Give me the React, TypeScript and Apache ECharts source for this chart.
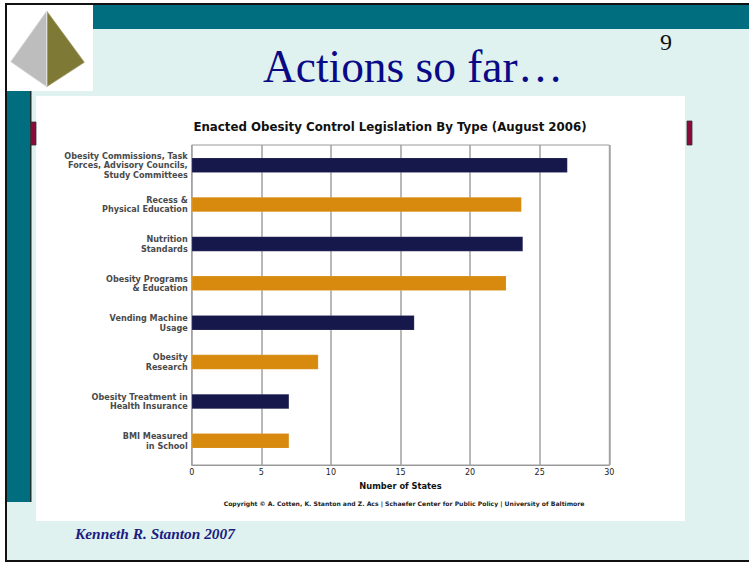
import React, { useEffect, useRef } from "react";
import * as echarts from "echarts";

const categories = [
  "Obesity Commissions, Task\nForces, Advisory Councils,\nStudy Committees",
  "Recess &\nPhysical Education",
  "Nutrition\nStandards",
  "Obesity Programs\n& Education",
  "Vending Machine\nUsage",
  "Obesity\nResearch",
  "Obesity Treatment in\nHealth Insurance",
  "BMI Measured\nin School",
];
const values = [27, 23.7, 23.8, 22.6, 16, 9.1, 7, 7];
const xTicks = { min: 0, max: 30, interval: 5 };

const NAVY = "#16174A";
const ORANGE = "#D78A0E";
const barColors = [NAVY, ORANGE, NAVY, ORANGE, NAVY, ORANGE, NAVY, ORANGE];

const TEAL = "#016E7F";
const SANS = "DejaVu Sans";
const SERIF = "Liberation Serif";

export default function App() {
  const ref = useRef<HTMLDivElement>(null);
  useEffect(() => {
    if (!ref.current) return;
    const chart = echarts.init(ref.current, undefined, { renderer: "svg" });
    const gLeft = 191.7;
    const gWidth = 417.6;
    const bg = (x: number, y: number, w: number, h: number, fill: string, z = -50, extra: any = {}) => ({
      type: "rect",
      z,
      silent: true,
      shape: { x, y, width: w, height: h },
      style: { fill, ...extra },
    });
    const txt = (text: string, x: number, y: number, s: any, z = 50) => ({
      type: "text",
      z,
      silent: true,
      x,
      y,
      style: {
        text,
        verticalAlign: "middle",
        textVerticalAlign: "middle",
        ...s,
      },
    });
    chart.setOption({
      animation: false,
      backgroundColor: "#ffffff",
      grid: [
        {
          left: gLeft,
          top: 145,
          width: gWidth,
          height: 320,
          show: true,
          borderColor: "#9a9a9a",
          borderWidth: 1,
          backgroundColor: "transparent",
        },
        { left: gLeft, top: 145.5, width: gWidth, height: 315 },
      ],
      xAxis: [
        {
          gridIndex: 0,
          type: "value",
          min: xTicks.min,
          max: xTicks.max,
          interval: xTicks.interval,
          axisLine: { show: true, lineStyle: { color: "#9a9a9a", width: 1 } },
          axisTick: { show: false },
          splitLine: { show: true, lineStyle: { color: "#a0a0a0", width: 1.5 } },
          axisLabel: { fontFamily: SANS, fontSize: 8, color: "#222", margin: 3 },
          name: "Number of States",
          nameLocation: "middle",
          nameGap: 17,
          nameTextStyle: { fontFamily: SANS, fontSize: 8.3, fontWeight: "bold", color: "#111" },
        },
        {
          gridIndex: 1,
          type: "value",
          min: xTicks.min,
          max: xTicks.max,
          show: false,
          splitLine: { show: false },
        },
      ],
      yAxis: [
        { gridIndex: 0, type: "value", show: false, splitLine: { show: false } },
        {
          gridIndex: 1,
          type: "category",
          inverse: true,
          data: categories,
          axisLine: { show: false },
          axisTick: { show: false },
          splitLine: { show: false },
          axisLabel: {
            fontFamily: SANS,
            fontSize: 8.1,
            fontWeight: "bold",
            lineHeight: 9.6,
            color: "#4a4a4a",
            margin: 4,
            align: "right",
          },
        },
      ],
      series: [
        {
          type: "bar",
          xAxisIndex: 1,
          yAxisIndex: 1,
          barWidth: 15,
          data: values.map((v, i) => ({ value: v, itemStyle: { color: barColors[i] } })),
          itemStyle: { borderColor: "rgba(255,255,255,0.25)", borderWidth: 0.5 },
        },
      ],
      graphic: [
        bg(0, 0, 749, 562, "#ffffff", -100),
        bg(5, 3, 744, 559, "#111111", -99),
        bg(7, 5, 742, 555, "#DFF2F0", -98),
        bg(93, 5, 656, 24, TEAL, -97),
        bg(7, 5, 86, 86, "#ffffff", -97),
        {
          type: "polygon",
          z: -96,
          silent: true,
          shape: { points: [[46.7, 11], [10.7, 61.7], [46.7, 86.7]] },
          style: { fill: "#BDBDBD", stroke: "#d8d8d8", lineWidth: 0.8 },
        },
        {
          type: "polygon",
          z: -96,
          silent: true,
          shape: { points: [[46.7, 11], [84.3, 62.3], [46.7, 86.7]] },
          style: { fill: "#7E7A36", stroke: "#9a9660", lineWidth: 0.8 },
        },
        {
          type: "line",
          z: -95,
          silent: true,
          shape: { x1: 46.7, y1: 11, x2: 46.7, y2: 86.7 },
          style: { stroke: "#e6e6e6", lineWidth: 1.2 },
        },
        bg(7, 91, 23, 411, TEAL, -97),
        bg(30, 91, 1.5, 411, "#203030", -97),
        bg(36, 96, 649, 425, "#ffffff", -97),
        bg(30.5, 122, 5.5, 23, "#8A0B3A", -96, { stroke: "#333", lineWidth: 0.8 }),
        bg(687, 121, 5, 24, "#8A0B3A", -96, { stroke: "#333", lineWidth: 0.8 }),
        txt("Actions so far…", 263, 66.5, {
          fontFamily: SERIF,
          fontSize: 45.4,
          fill: "#0A0A86",
          align: "left",
          textAlign: "left",
        }),
        txt("9", 666, 42, {
          fontFamily: SERIF,
          fontSize: 24,
          fill: "#111",
          align: "center",
          textAlign: "center",
        }),
        txt("Kenneth R. Stanton 2007", 75, 533, {
          fontFamily: SERIF,
          fontSize: 15.4,
          fontStyle: "italic",
          fontWeight: "bold",
          fill: "#1B1B80",
          align: "left",
          textAlign: "left",
        }),
        txt("Enacted Obesity Control Legislation By Type (August 2006)", 390, 127, {
          fontFamily: SANS,
          fontSize: 11.8,
          fontWeight: "bold",
          fill: "#111",
          align: "center",
          textAlign: "center",
        }),
        txt(
          "Copyright © A. Cotten, K. Stanton and Z. Acs | Schaefer Center for Public Policy | University of Baltimore",
          404,
          503,
          {
            fontFamily: SANS,
            fontSize: 6.1,
            fontWeight: "bold",
            fill: "#222",
            align: "center",
            textAlign: "center",
          }
        ),
      ],
    });
    return () => chart.dispose();
  }, []);
  return (
    <div
      ref={ref}
      style={{ position: "fixed", left: 0, top: 0, width: 749, height: 562 }}
    />
  );
}
